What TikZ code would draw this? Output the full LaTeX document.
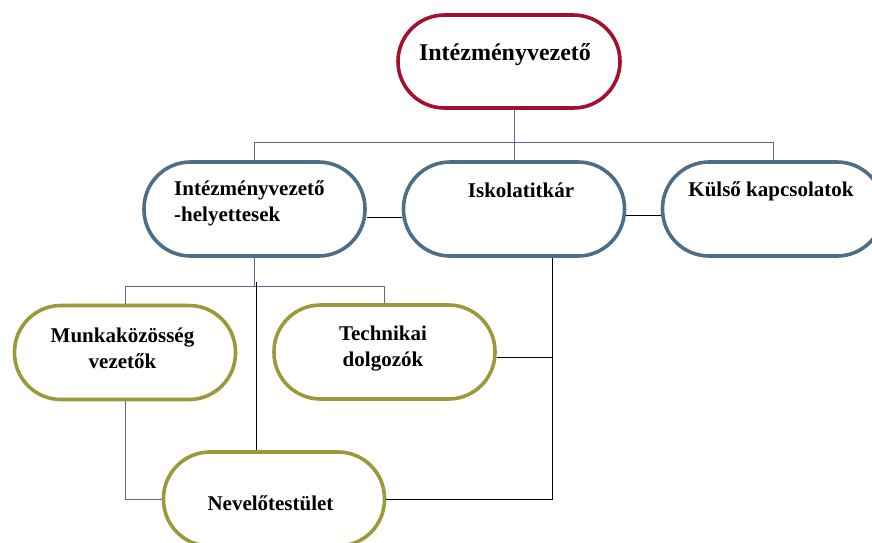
\documentclass[tikz,border=0pt]{standalone}
\usepackage{fontspec}
\setmainfont{Liberation Serif}
\usepackage{tikz}
\usetikzlibrary{calc}
\definecolor{leadred}{RGB}{163,16,46}
\definecolor{slate}{RGB}{78,110,134}
\definecolor{olive}{RGB}{155,154,58}
\definecolor{treeline}{RGB}{98,98,160}
\tikzstyle{orgbox} = [rectangle, draw, fill=white, line width=3.6pt, rounded corners=46.5pt, minimum width=221pt, minimum height=94pt]
\tikzstyle{headbox} = [orgbox, draw=leadred, minimum width=222pt, minimum height=93pt]
\tikzstyle{staffbox} = [orgbox, draw=slate]
\tikzstyle{unitbox} = [orgbox, draw=olive]
\tikzstyle{boxtext} = [inner sep=0pt, align=center, font=\fontsize{21pt}{26pt}\selectfont\bfseries]
\tikzstyle{tree} = [draw=treeline, line width=0.9pt]
\tikzstyle{link} = [draw=black, line width=1pt]

\begin{document}
\begin{tikzpicture}[x=1pt, y=-1pt]
        \useasboundingbox (0,0) rectangle (872,542);
        \clip (0,0) rectangle (872,542);
        % boxes
        \node (head) [headbox] at (509,61.5) {};
        \node (vice) [staffbox] at (254.5,209) {};
        \node (secr) [staffbox] at (514,209) {};
        \node (ext) [staffbox] at (773,209) {};
        \node (munka) [unitbox] at (125,352.5) {};
        \node (tech) [unitbox] at (384.5,352) {};
        \node (nevelo) [unitbox] at (274,499) {};
        % texts
        \node (headtext) [boxtext, font=\fontsize{24pt}{28pt}\selectfont\bfseries] at (505,55) {Intézményvezető};
        \node (vicetext) [boxtext, align=left, anchor=west] at (174,203) {Intézményvezető\\-helyettesek};
        \node (secrtext) [boxtext] at (521,190) {Iskolatitkár};
        \node (exttext) [boxtext] at (771,191) {Külső kapcsolatok};
        \node (munkatext) [boxtext] at (122.5,348) {Munkaközösség\\vezetők};
        \node (techtext) [boxtext] at (383,348.5) {Technikai\\dolgozók};
        \node (nevelotext) [boxtext] at (270.5,503) {Nevelőtestület};
        % tree lines
        \coordinate (bus1) at ($(secr.north)+(0,-18)$);
        \draw [tree] (bus1 |- head.south) -- (secr.north);
        \draw [tree] (vice.north) |- (bus1) -| (ext.north);
        \coordinate (bus2) at ($(vice.south)+(0,29)$);
        \draw [tree] (vice.south) -- (bus2);
        \draw [tree] (munka.north) |- (bus2) -| (tech.north);
        \draw [tree] (munka.south) |- (nevelo.west);
        % black links
        \draw [link] ([yshift=-8pt]vice.east) -- ([yshift=-8pt]secr.west);
        \draw [link] ([yshift=-6pt]secr.east) -- ([yshift=-6pt]ext.west);
        \coordinate (drop) at (bus2 |- nevelo.north);
        \draw [link] ([xshift=1.5pt,yshift=5pt]bus2) -- ([xshift=1.5pt]drop);
        \coordinate (rail) at ([xshift=38pt]secr.south);
        \draw [link] (rail) |- (nevelo.east);
        \coordinate (techjoin) at ([yshift=-5pt]tech.east);
        \draw [link] (techjoin) -- (techjoin -| rail);
    \end{tikzpicture}
\end{document}
